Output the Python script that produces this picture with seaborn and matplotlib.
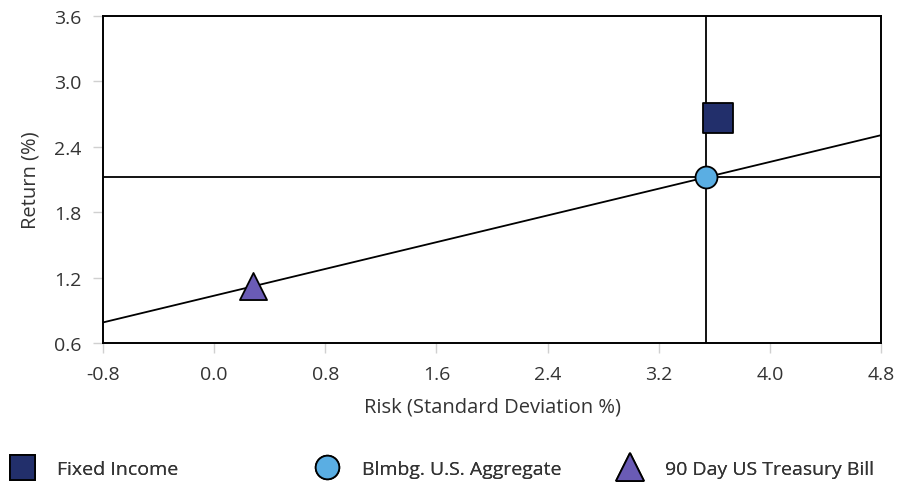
import matplotlib
matplotlib.use("Agg")
import matplotlib.pyplot as plt
from matplotlib.lines import Line2D
import numpy as np
import pandas as pd
import seaborn as sns

# Risk / return figures
names = ["Fixed Income", "Blmbg. U.S. Aggregate", "90 Day US Treasury Bill"]
risk = [3.63, 3.54, 0.28]
ret = [2.66, 2.12, 1.12]
colors = ["#222f6b", "#5aaee3", "#6a5bb5"]
marker_styles = ["s", "o", "^"]
marker_sizes = [460, 250, 380]

x_ticks = [-0.8, 0.0, 0.8, 1.6, 2.4, 3.2, 4.0, 4.8]
y_ticks = [0.6, 1.2, 1.8, 2.4, 3.0, 3.6]

df = pd.DataFrame({"name": names, "risk": risk, "ret": ret})

sns.set_theme(style="white")
plt.rcParams["font.family"] = ["Open Sans", "DejaVu Sans"]

fig = plt.figure(figsize=(9.13, 4.85), dpi=100)
ax = fig.add_axes([103 / 913, 1 - 344 / 485, 778 / 913, 327 / 485])

ax.set_xlim(-0.8, 4.8)
ax.set_ylim(0.6, 3.6)

# Market line from the risk-free asset through the benchmark, across the whole axis
bx, by = risk[1], ret[1]
rx, ry = risk[2], ret[2]
slope = (by - ry) / (bx - rx)
xs = np.array([-0.8, 4.8])
ax.plot(xs, ry + slope * (xs - rx), color="black", lw=1.3, zorder=2)

# Benchmark crosshair
ax.axvline(bx, color="black", lw=1.3, zorder=2)
ax.axhline(by, color="black", lw=1.3, zorder=2)

for i in range(len(names)):
    sns.scatterplot(data=df.iloc[[i]], x="risk", y="ret", ax=ax,
                    marker=marker_styles[i], s=marker_sizes[i],
                    color=colors[i], edgecolor="black", linewidth=1.3,
                    zorder=3, legend=False)

ax.set_xticks(x_ticks)
ax.set_xticklabels([f"{v:.1f}" for v in x_ticks])
ax.set_yticks(y_ticks)
ax.set_yticklabels([f"{v:.1f}" for v in y_ticks])
ax.tick_params(axis="both", which="both", direction="out", length=7.5, width=1,
               color="#d0d0d0", labelsize=14, labelcolor="#333333", pad=8,
               bottom=True, left=True)

for sp in ax.spines.values():
    sp.set_color("black")
    sp.set_linewidth(1.4)

ax.set_xlabel("Risk (Standard Deviation %)", fontsize=14.5, color="#333333", labelpad=10)
ax.set_ylabel("Return (%)", fontsize=14.5, color="#333333", labelpad=10)

# One legend entry per series, spread along the bottom of the figure
legend_left = [6.5, 311.5, 614.5]
legend_ms = [18, 17, 20]
for i in range(len(names)):
    h = Line2D([], [], linestyle="none", marker=marker_styles[i], markersize=legend_ms[i],
               markerfacecolor=colors[i], markeredgecolor="black", markeredgewidth=1.3)
    leg = fig.legend([h], [names[i]], loc="center left",
                     bbox_to_anchor=(legend_left[i] / 913, 1 - 470 / 485),
                     frameon=False, fontsize=14, handlelength=1.6, handletextpad=1.0,
                     borderpad=0, borderaxespad=0, labelcolor="#333333")
    fig.add_artist(leg)

fig.savefig("out.png", dpi=100)
